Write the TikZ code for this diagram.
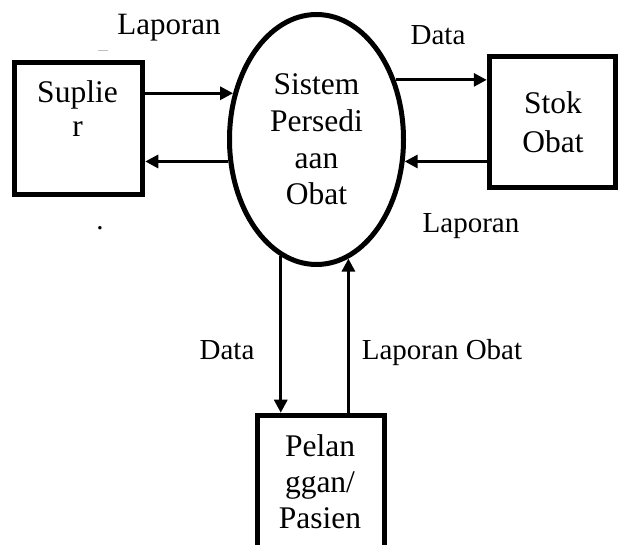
\documentclass[tikz,border=0pt]{standalone}
\usepackage{fontspec}
\setmainfont{Liberation Serif}
\usetikzlibrary{arrows.meta,shapes.geometric}
\begin{document}
\begin{tikzpicture}[x=1pt,y=-1pt,
  boxstyle/.style={draw, line width=5.5pt, rectangle, inner sep=0pt},
  bigtxt/.style={font=\fontsize{31.5}{36.5}\selectfont, align=center, inner sep=0pt, anchor=base},
  lbl/.style={font=\fontsize{29}{34}\selectfont, inner sep=0pt, anchor=base},
  arr/.style={line width=3pt, -{Triangle[length=13pt,width=13pt]}}]
\useasboundingbox (0,0) rectangle (619,545);
\clip (0,0) rectangle (619,545);
% boxes
\node[boxstyle, minimum width=128pt, minimum height=132pt] (sup) at (78.5,128.5) {};
\node[boxstyle, minimum width=126pt, minimum height=131pt] (stok) at (552.5,122) {};
\node[boxstyle, minimum width=127pt, minimum height=184pt] (pel) at (321,507.5) {};
% process
\node[draw, ellipse, line width=5pt, minimum width=174pt, minimum height=250pt,
      inner sep=0pt, align=center, font=\fontsize{31.5}{36.7}\selectfont] (sys) at (316.5,139.5)
      {Sistem\\Persedi\\aan\\Obat};
% border points
\coordinate (e1) at (sys.151.3);
\coordinate (e2) at (sys.194.7);
\coordinate (e3) at (sys.37.9);
\coordinate (e4) at (sys.346.6);
\coordinate (e5) at (sys.253.8);
\coordinate (e6) at (sys.285.7);
% connectors
\draw[arr] (sup.east |- e1) -- (e1);
\draw[arr] (e2) -- (sup.east |- e2);
\draw[arr] (e3) -- (stok.west |- e3);
\draw[arr] (stok.west |- e4) -- (e4);
\draw[arr] (e5) -- (e5 |- pel.north);
\draw[arr] (pel.north -| e6) -- (e6);
% box texts (base anchor = baseline of last line)
\node[bigtxt, font=\fontsize{31.5}{34}\selectfont] (suptxt) at (77.5,137) {Suplie\\r};
\node[bigtxt, font=\fontsize{31.5}{39}\selectfont] (stoktxt) at (553,153) {Stok\\Obat};
\node[bigtxt, font=\fontsize{31.5}{36}\selectfont] (peltxt) at (320,528) {Pelan\\ggan/\\Pasien};
% labels
\node[lbl, font=\fontsize{31}{36}\selectfont] (l1) at (169,35) {Laporan};
\node[lbl] (l2) at (438,45) {Data};
\node[lbl] (l3) at (471,233) {Laporan};
\node[lbl] (l4) at (227,360) {Data};
\node[lbl] (l5) at (442,360) {Laporan Obat};
\node[lbl] (dot) at (100,230) {.};
\draw[gray!50, line width=1pt] (98,51) -- (108,51);
\end{tikzpicture}
\end{document}
